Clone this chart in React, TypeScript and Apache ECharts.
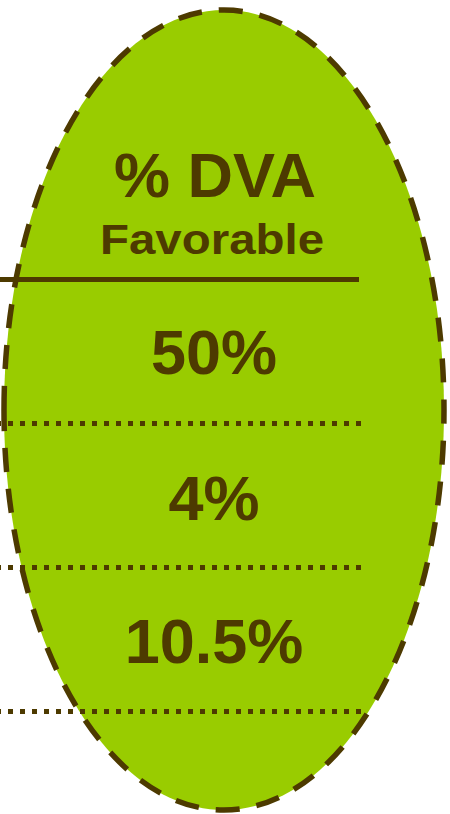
import React, { useEffect, useRef } from "react";
import * as echarts from "echarts";

const headerTitle = "% DVA";
const headerSubtitle = "Favorable";
const dvaValues = [50, 4, 10.5];

const BROWN = "#4D3A00";
const GREEN = "#99CC00";
const FONT = '"Liberation Sans", Arial, sans-serif';

export default function App() {
  const ref = useRef<HTMLDivElement>(null);
  useEffect(() => {
    if (!ref.current) return;
    const chart = echarts.init(ref.current, undefined, { renderer: "svg" });
    const cx = 214;
    const rowTop = 279.5;
    const rowH = 144;
    const valueCenters = [352, 497.5, 641];
    const graphic: any[] = [
      {
        type: "ellipse",
        shape: { cx: 224, cy: 410, rx: 220, ry: 400 },
        style: { fill: GREEN, stroke: BROWN, lineWidth: 5.5, lineDash: [24, 17] },
      },
      {
        type: "line",
        shape: { x1: 0, y1: rowTop, x2: 359, y2: rowTop },
        style: { stroke: BROWN, lineWidth: 5 },
      },
    ];
    dvaValues.forEach((v, i) => {
      const y = rowTop + rowH * (i + 1);
      graphic.push({
        type: "line",
        shape: { x1: -4, y1: y, x2: 361, y2: y },
        style: { stroke: BROWN, lineWidth: 5, lineDash: [5, 7] },
      });
      graphic.push({
        type: "text",
        x: cx,
        y: valueCenters[i],
        style: {
          text: `${v}%`,
          font: `bold 63px ${FONT}`,
          fill: BROWN,
          align: "center",
          verticalAlign: "middle",
        },
      });
    });
    graphic.push({
      type: "text",
      x: 215,
      y: 175,
      style: {
        text: headerTitle,
        font: `bold 63px ${FONT}`,
        fill: BROWN,
        align: "center",
        verticalAlign: "middle",
      },
    });
    graphic.push({
      type: "text",
      x: 212,
      y: 239.3,
      scaleX: 1.13,
      style: {
        text: headerSubtitle,
        font: `bold 42px ${FONT}`,
        fill: BROWN,
        align: "center",
        verticalAlign: "middle",
      },
    });
    chart.setOption({ animation: false, graphic });
    return () => chart.dispose();
  }, []);
  return (
    <div
      ref={ref}
      style={{ position: "fixed", left: 0, top: 0, width: 450, height: 814, background: "#fff" }}
    />
  );
}
